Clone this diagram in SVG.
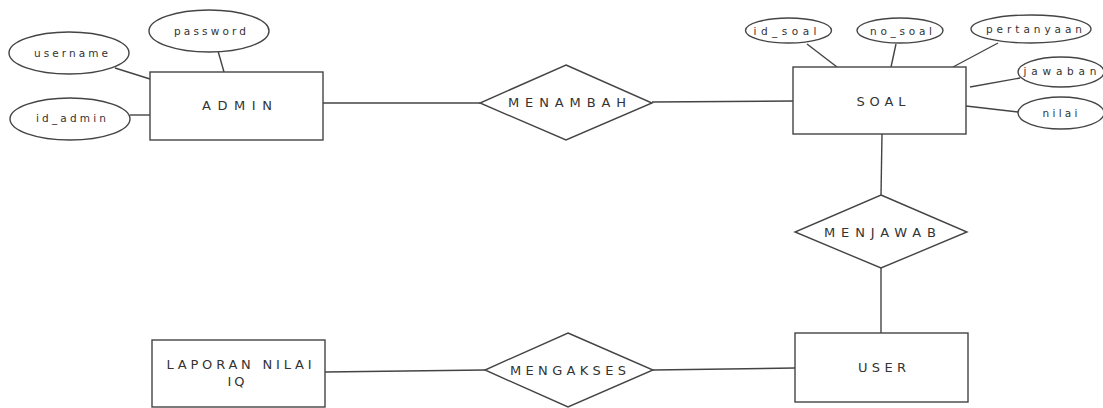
<svg xmlns="http://www.w3.org/2000/svg" width="1103" height="408" viewBox="0 0 1103 408">
<style>
.shape{fill:#fff;stroke:#444;stroke-width:1.4}
.ln{stroke:#444;stroke-width:1.4;fill:none}
.t{font-family:"DejaVu Sans","Liberation Sans",sans-serif;font-size:13px;fill:#333;text-anchor:middle}
.a{font-family:"DejaVu Sans","Liberation Sans",sans-serif;font-size:10.5px;fill:#333;text-anchor:middle}
</style>
<rect width="1103" height="408" fill="#fff"/>
<g id="connectors">
<line class="ln" x1="218" y1="51" x2="224" y2="72"/>
<line class="ln" x1="115" y1="68" x2="150" y2="79"/>
<line class="ln" x1="130" y1="115" x2="150" y2="115"/>
<line class="ln" x1="323" y1="103" x2="480" y2="103"/>
<line class="ln" x1="652" y1="102" x2="793" y2="101"/>
<line class="ln" x1="807" y1="44" x2="837" y2="67"/>
<line class="ln" x1="896" y1="44" x2="891" y2="67"/>
<line class="ln" x1="998" y1="43" x2="953" y2="67"/>
<line class="ln" x1="1020" y1="78" x2="970" y2="87"/>
<line class="ln" x1="1018" y1="112" x2="966" y2="106"/>
<line class="ln" x1="882" y1="134" x2="881" y2="195"/>
<line class="ln" x1="881" y1="268" x2="881" y2="333"/>
<line class="ln" x1="795" y1="368" x2="653" y2="370"/>
<line class="ln" x1="325" y1="372" x2="485" y2="370"/>
</g>
<g id="admin">
<rect class="shape" x="150" y="72" width="173" height="68"/>
<text class="t" x="237" y="110" textLength="70" lengthAdjust="spacing">ADMIN</text>
</g>
<g id="password">
<ellipse class="shape" cx="209" cy="31" rx="60" ry="21"/>
<text class="a" x="210" y="35" textLength="72" lengthAdjust="spacing">password</text>
</g>
<g id="username">
<ellipse class="shape" cx="69" cy="53" rx="60" ry="21"/>
<text class="a" x="71" y="57" textLength="74" lengthAdjust="spacing">username</text>
</g>
<g id="id_admin">
<ellipse class="shape" cx="70" cy="119" rx="60" ry="21"/>
<text class="a" x="71" y="122" textLength="70" lengthAdjust="spacing">id_admin</text>
</g>
<g id="menambah">
<polygon class="shape" points="566,65 652,103 566,140 480,103"/>
<text class="t" x="567" y="107" textLength="118" lengthAdjust="spacing">MENAMBAH</text>
</g>
<g id="soal">
<rect class="shape" x="793" y="67" width="173" height="67"/>
<text class="t" x="881" y="106" textLength="49" lengthAdjust="spacing">SOAL</text>
</g>
<g id="id_soal">
<ellipse class="shape" cx="788.5" cy="30.5" rx="43" ry="12.5"/>
<text class="a" x="785" y="35" textLength="63" lengthAdjust="spacing">id_soal</text>
</g>
<g id="no_soal">
<ellipse class="shape" cx="900" cy="30.5" rx="43" ry="12.5"/>
<text class="a" x="901" y="35" textLength="62" lengthAdjust="spacing">no_soal</text>
</g>
<g id="pertanyaan">
<ellipse class="shape" cx="1031" cy="29" rx="60" ry="14"/>
<text class="a" x="1034" y="33" textLength="96" lengthAdjust="spacing">pertanyaan</text>
</g>
<g id="jawaban">
<ellipse class="shape" cx="1061" cy="72" rx="43" ry="15"/>
<text class="a" x="1060" y="75" textLength="73" lengthAdjust="spacing">jawaban</text>
</g>
<g id="nilai">
<ellipse class="shape" cx="1061" cy="113" rx="43" ry="16"/>
<text class="a" x="1060" y="117" textLength="35" lengthAdjust="spacing">nilai</text>
</g>
<g id="menjawab">
<polygon class="shape" points="881,195 967,232 881,268 795,232"/>
<text class="t" x="880" y="237" textLength="112" lengthAdjust="spacing">MENJAWAB</text>
</g>
<g id="user">
<rect class="shape" x="795" y="333" width="173" height="69"/>
<text class="t" x="882" y="372" textLength="48" lengthAdjust="spacing">USER</text>
</g>
<g id="mengakses">
<polygon class="shape" points="568,333 653,370 568,407 485,370"/>
<text class="t" x="568" y="375" textLength="116" lengthAdjust="spacing">MENGAKSES</text>
</g>
<g id="laporan">
<rect class="shape" x="152" y="340" width="173" height="67"/>
<text class="t" x="239" y="369" textLength="145" lengthAdjust="spacing">LAPORAN NILAI</text>
<text class="t" x="236" y="386" textLength="17" lengthAdjust="spacing">IQ</text>
</g>
</svg>
